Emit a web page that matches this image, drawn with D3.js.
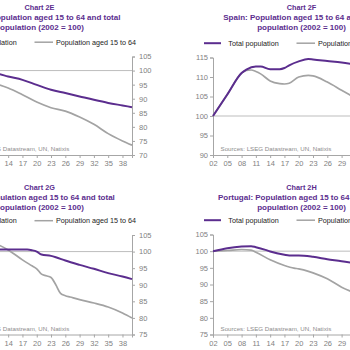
<!DOCTYPE html>
<html><head><meta charset="utf-8">
<script src="https://cdn.jsdelivr.net/npm/d3@7"></script>
<style>body{margin:0;background:#fff}svg{display:block}</style>
</head><body><svg id="c" width="350" height="350"></svg>
<script>
const tickYears = [2002,2005,2008,2011,2014,2017,2020,2023,2026,2029,2032,2035,2038];
const legendLabels = ["Total population", "Population aged 15 to 64"];
const sourceText = "Sources: LSEG Datastream, UN, Natixis";

// Chart 2E
const titleE = ["Chart 2E", "Greece: Population aged 15 to 64 and total", "population (2002 = 100)"];
const yearsE = [2010,2012,2014,2017,2020,2023,2026,2029,2032,2035,2038,2040];
const totalE = [99.5,98.8,97.9,96.7,94.9,93.2,92.0,90.8,89.6,88.5,87.6,87.0];
const workE  = [96.5,95.0,93.8,91.4,88.8,86.8,85.6,83.5,80.9,77.6,75.0,73.5];
const ticksE = [70,75,80,85,90,95,100,105];

// Chart 2F
const titleF = ["Chart 2F", "Spain: Population aged 15 to 64 and total", "population (2002 = 100)"];
const yearsF = [2002,2005,2008,2009,2011,2012,2014,2016,2017,2018,2020,2022,2023,2026,2029,2032];
const totalF = [100,105.5,111.0,111.9,112.7,112.7,112.0,112.0,112.3,113.0,114.0,114.6,114.5,114.1,113.7,113.2];
const yearsF2 = [2002,2005,2008,2009,2010,2011,2012,2014,2016,2017,2018,2020,2022,2023,2026,2029,2032];
const workF  = [100,105.5,111.0,111.7,111.8,111.4,110.8,109.0,108.3,108.2,108.4,110.0,110.4,110.3,108.7,106.6,104.5];
const ticksF = [90,95,100,105,110,115];

// Chart 2G
const titleG = ["Chart 2G", "Italy: Population aged 15 to 64 and total", "population (2002 = 100)"];
const yearsG = [2010,2013,2016,2018,2019,2020,2021,2023,2024,2026,2029,2032,2035,2038,2040];
const totalG = [100.6,100.6,100.6,100.6,100.4,100.0,99.1,98.7,98.3,97.3,96.0,94.8,93.5,92.5,91.7];
const yearsG2 = [2010,2012,2014,2017,2019,2020,2021,2022,2023,2024,2025,2026,2027,2029,2032,2035,2038,2040];
const workG  = [103.0,102.0,100.5,97.5,95.7,94.8,93.2,92.7,92.2,90.0,87.4,86.7,86.3,85.5,84.5,83.3,81.5,80.0];
const ticksG = [75,80,85,90,95,100,105];

// Chart 2H
const titleH = ["Chart 2H", "Portugal: Population aged 15 to 64 and total", "population (2002 = 100)"];
const yearsH = [2002,2005,2008,2010,2011,2013,2014,2017,2018,2020,2023,2026,2029,2032];
const totalH = [100,100.9,101.4,101.5,101.2,100.4,99.9,98.9,98.7,98.7,98.3,97.6,97.0,96.3];
const yearsH2 = [2002,2005,2008,2010,2011,2014,2017,2019,2020,2021,2023,2026,2029,2032];
const workH  = [100,100.2,100.5,100.3,99.7,97.4,95.7,94.9,94.7,94.4,93.5,91.7,89.2,87.3];
const ticksH = [75,80,85,90,95,100,105];

const PURPLE = "#5b2d8e", GREY = "#a3a3a3", AXIS = "#a6a6a6", LABEL = "#7f7f7f";
const FONT = "'Liberation Sans', Arial, sans-serif";
const W = 181;

const panels = [
  {title:titleE, x0:-49, top:56.5, bottom:155, dom:[70,105], ticks:ticksE, side:"right", yrsT:yearsE, tot:totalE, yrsW:yearsE, wrk:workE, ty:0},
  {title:titleF, x0:213, top:57.5, bottom:155, dom:[90,115], ticks:ticksF, side:"left", yrsT:yearsF, tot:totalF, yrsW:yearsF2, wrk:workF, ty:0},
  {title:titleG, x0:-49, top:235, bottom:334.5, dom:[75,105], ticks:ticksG, side:"right", yrsT:yearsG, tot:totalG, yrsW:yearsG2, wrk:workG, ty:180.5},
  {title:titleH, x0:213, top:234.5, bottom:334.5, dom:[75,105], ticks:ticksH, side:"left", yrsT:yearsH, tot:totalH, yrsW:yearsH2, wrk:workH, ty:180.5}
];

const svg = d3.select("#c");

panels.forEach(p => {
  const g = svg.append("g");
  const x = d3.scaleLinear().domain([2002,2040]).range([p.x0, p.x0+W]);
  const y = d3.scaleLinear().domain(p.dom).range([p.bottom, p.top]);
  const cx = p.x0 + W/2 - 2;

  // titles
  const tyy = [7, 17, 27];
  p.title.forEach((t,i) => {
    g.append("text").attr("x", cx).attr("y", tyy[i] + p.ty).attr("dy","0.35em")
      .attr("text-anchor","middle").attr("font-family",FONT).attr("font-weight","bold")
      .attr("font-size", i===0 ? 7.3 : 8).attr("fill", PURPLE).text(t);
  });

  // legend
  const ly = p.top - 14.3;
  g.append("line").attr("x1", p.x0-9).attr("x2", p.x0+8).attr("y1", ly).attr("y2", ly)
    .attr("stroke", PURPLE).attr("stroke-width", 2);
  g.append("text").attr("x", p.x0+15.3).attr("y", ly).attr("dy","0.35em")
    .attr("font-family",FONT).attr("font-size",7.2).attr("fill","#222").text(legendLabels[0]);
  g.append("line").attr("x1", p.x0+83.5).attr("x2", p.x0+102).attr("y1", ly).attr("y2", ly)
    .attr("stroke", GREY).attr("stroke-width", 1.5);
  g.append("text").attr("x", p.x0+105).attr("y", ly).attr("dy","0.35em")
    .attr("font-family",FONT).attr("font-size",7.2).attr("fill","#222").text(legendLabels[1]);

  // gridline at 100
  g.append("line").attr("x1", x(2002)).attr("x2", x(2040)).attr("y1", y(100)).attr("y2", y(100))
    .attr("stroke", "#bdbdbd").attr("stroke-width", 1);

  // axes
  const yAxis = (p.side === "right" ? d3.axisRight(y) : d3.axisLeft(y))
    .tickValues(p.ticks).tickFormat(d3.format("d")).tickSize(3).tickPadding(p.side==="right"?4:2);
  const ya = g.append("g").attr("transform", `translate(${p.side==="right" ? x(2040) : x(2002)},0)`).call(yAxis);
  const xAxis = d3.axisBottom(x).tickValues(tickYears).tickFormat(d => String(d).slice(2)).tickSize(3).tickPadding(3);
  const xa = g.append("g").attr("transform", `translate(0,${p.bottom})`).call(xAxis);
  [ya, xa].forEach(a => {
    a.select(".domain").attr("stroke", AXIS);
    a.selectAll(".tick line").attr("stroke", AXIS);
    a.selectAll("text").attr("fill", LABEL).attr("font-family", FONT).attr("font-size", 7.5);
  });

  // source
  g.append("text").attr("x", p.x0+7.5).attr("y", p.bottom-6).attr("dy","0.35em")
    .attr("font-family",FONT).attr("font-size",6.2).attr("fill","#8c8c8c").text(sourceText);

  // lines
  const line = d3.line().x(d => x(d[0])).y(d => y(d[1])).curve(d3.curveMonotoneX);
  g.append("path").datum(p.yrsW.map((yr,i)=>[yr,p.wrk[i]])).attr("d", line)
    .attr("fill","none").attr("stroke", GREY).attr("stroke-width", 1.7);
  g.append("path").datum(p.yrsT.map((yr,i)=>[yr,p.tot[i]])).attr("d", line)
    .attr("fill","none").attr("stroke", PURPLE).attr("stroke-width", 2);
});
</script></body></html>
